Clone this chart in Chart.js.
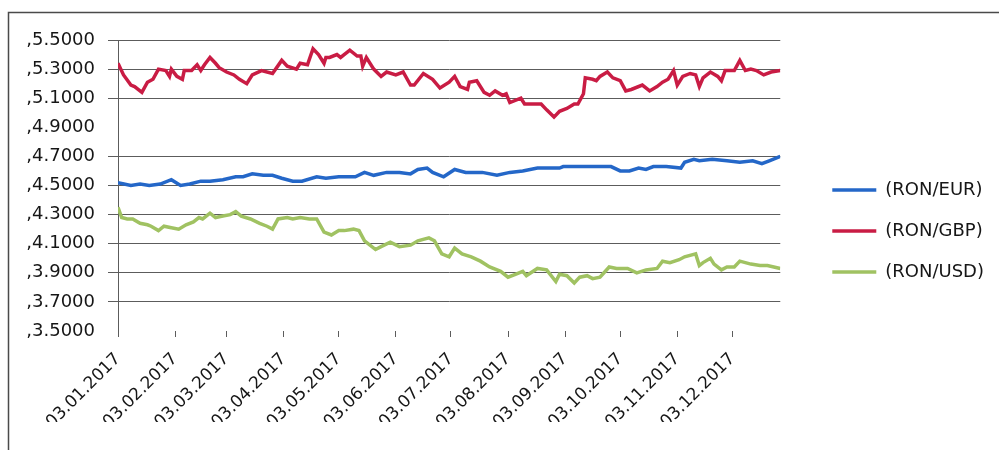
<!DOCTYPE html>
<html>
<head>
<meta charset="utf-8">
<script src="https://cdn.jsdelivr.net/npm/chart.js@4/dist/chart.umd.min.js"></script>
<style>
  body { margin: 0; background: #fff; }
  #wrap { width: 999px; height: 450px; }
</style>
</head>
<body>
<div id="wrap"><canvas id="fxChart" width="999" height="450"></canvas></div>
<script>
// ── DATA (days counted from 03.01.2017) ─────────────────────

const tickDays   = [0, 31, 59, 90, 120, 151, 181, 212, 243, 273, 304, 334];
const tickLabels = ['03.01.2017', '03.02.2017', '03.03.2017', '03.04.2017', '03.05.2017', '03.06.2017',
                    '03.07.2017', '03.08.2017', '03.09.2017', '03.10.2017', '03.11.2017', '03.12.2017'];

const eurDays  = [0, 7, 12, 17, 23, 29, 34, 39, 45, 50, 57, 64, 68, 73, 79, 84, 89, 95, 100, 108, 113, 120,
                  129, 134, 139, 146, 153, 159, 163, 168, 171, 177, 183, 189, 198, 206, 213, 220, 228, 233,
                  240, 242, 253, 268, 273, 278, 283, 287, 291, 298, 306, 308, 313, 316, 323, 331, 338, 345,
                  350, 354, 360];
const eurRates = [4.52, 4.50, 4.51, 4.50, 4.51, 4.54, 4.50, 4.51, 4.53, 4.53, 4.54, 4.56, 4.56, 4.58, 4.57,
                  4.57, 4.55, 4.53, 4.53, 4.56, 4.55, 4.56, 4.56, 4.59, 4.57, 4.59, 4.59, 4.58, 4.61, 4.62,
                  4.59, 4.56, 4.61, 4.59, 4.59, 4.57, 4.59, 4.60, 4.62, 4.62, 4.62, 4.63, 4.63, 4.63, 4.60,
                  4.60, 4.62, 4.61, 4.63, 4.63, 4.62, 4.66, 4.68, 4.67, 4.68, 4.67, 4.66, 4.67, 4.65, 4.67,
                  4.70];

const gbpDays  = [0, 3, 7, 9, 13, 16, 19, 22, 26, 28, 29, 32, 35, 36, 40, 43, 45, 47, 50, 53, 55, 59, 63, 66,
                  70, 73, 78, 84, 89, 92, 97, 99, 103, 106, 109, 112, 113, 115, 119, 121, 126, 130, 132, 133,
                  135, 139, 143, 146, 151, 155, 159, 161, 166, 171, 175, 180, 183, 186, 190, 191, 195, 199,
                  202, 205, 209, 211, 213, 219, 221, 226, 230, 233, 237, 240, 244, 248, 250, 253, 254, 258,
                  260, 262, 266, 269, 273, 276, 279, 285, 289, 293, 296, 299, 302, 304, 307, 311, 314, 316,
                  318, 322, 326, 328, 330, 335, 338, 341, 344, 347, 351, 355, 360];
const gbpRates = [5.34, 5.26, 5.19, 5.18, 5.14, 5.21, 5.23, 5.30, 5.29, 5.25, 5.30, 5.25, 5.23, 5.29, 5.29,
                  5.33, 5.29, 5.33, 5.38, 5.34, 5.31, 5.28, 5.26, 5.23, 5.20, 5.26, 5.29, 5.27, 5.36, 5.32,
                  5.30, 5.34, 5.33, 5.44, 5.40, 5.34, 5.38, 5.38, 5.40, 5.38, 5.43, 5.39, 5.39, 5.32, 5.38,
                  5.30, 5.25, 5.28, 5.26, 5.28, 5.19, 5.19, 5.27, 5.23, 5.17, 5.21, 5.25, 5.18, 5.16, 5.21,
                  5.22, 5.14, 5.12, 5.15, 5.12, 5.13, 5.07, 5.10, 5.06, 5.06, 5.06, 5.02, 4.97, 5.01, 5.03,
                  5.06, 5.06, 5.13, 5.24, 5.23, 5.22, 5.25, 5.28, 5.24, 5.22, 5.15, 5.16, 5.19, 5.15, 5.18,
                  5.21, 5.23, 5.29, 5.19, 5.25, 5.27, 5.26, 5.18, 5.24, 5.28, 5.25, 5.22, 5.29, 5.29, 5.36,
                  5.29, 5.30, 5.29, 5.26, 5.28, 5.29];

const usdDays  = [0, 2, 5, 8, 12, 16, 18, 22, 25, 29, 33, 37, 41, 44, 46, 50, 53, 57, 61, 64, 67, 72, 77, 81,
                  84, 87, 92, 95, 99, 104, 108, 112, 116, 120, 123, 128, 131, 134, 140, 143, 148, 153, 159,
                  163, 169, 172, 176, 180, 183, 187, 192, 197, 202, 208, 212, 216, 220, 222, 228, 233, 238,
                  240, 244, 248, 251, 255, 258, 262, 267, 271, 277, 282, 287, 293, 296, 300, 305, 308, 314,
                  316, 318, 322, 324, 328, 331, 335, 338, 344, 349, 353, 360];
const usdRates = [4.35, 4.28, 4.27, 4.27, 4.24, 4.23, 4.22, 4.19, 4.22, 4.21, 4.20, 4.23, 4.25, 4.28, 4.27,
                  4.31, 4.28, 4.29, 4.30, 4.32, 4.29, 4.27, 4.24, 4.22, 4.20, 4.27, 4.28, 4.27, 4.28, 4.27,
                  4.27, 4.18, 4.16, 4.19, 4.19, 4.20, 4.19, 4.12, 4.06, 4.08, 4.11, 4.08, 4.09, 4.12, 4.14,
                  4.12, 4.03, 4.01, 4.07, 4.03, 4.01, 3.98, 3.94, 3.91, 3.87, 3.89, 3.91, 3.88, 3.93, 3.92,
                  3.84, 3.89, 3.88, 3.83, 3.87, 3.88, 3.86, 3.87, 3.94, 3.93, 3.93, 3.90, 3.92, 3.93, 3.98,
                  3.97, 3.99, 4.01, 4.03, 3.95, 3.97, 4.00, 3.96, 3.92, 3.94, 3.94, 3.98, 3.96, 3.95, 3.95,
                  3.93];

const seriesNames  = ['(RON/EUR)', '(RON/GBP)', '(RON/USD)'];
const seriesColors = ['#2467c8', '#c91c44', '#a0c262'];


// ── HELPERS ────────────────────────────────────────────────

const toPoints = (days, rates) => days.map((d, i) => ({ x: d, y: rates[i] }));

const gridColor = '#5c5c5c';
const textColor = '#161616';
const fontFamily = '"DejaVu Sans", sans-serif';

// scanned page frame round the chart, and a gap between plot and legend
const framePlugin = {
  id: 'frame',
  afterLayout(chart) {
    chart.legend.left += 29;
    chart.legend.right += 29;
  },
  beforeDraw(chart) {
    const c = chart.ctx;
    c.save();
    c.strokeStyle = '#4a4a4a';
    c.lineWidth = 1.5;
    c.beginPath();
    c.moveTo(8.5, 450);
    c.lineTo(8.5, 12.5);
    c.lineTo(999, 12.5);
    c.stroke();
    c.restore();
  }
};


// ── CHART ──────────────────────────────────────────────────

const datasets = [
  toPoints(eurDays, eurRates),
  toPoints(gbpDays, gbpRates),
  toPoints(usdDays, usdRates)
].map((pts, i) => ({
  label: seriesNames[i],
  data: pts,
  borderColor: seriesColors[i],
  backgroundColor: seriesColors[i],
  borderWidth: 3.5,
  pointRadius: 0,
  tension: 0
}));

new Chart(document.getElementById('fxChart'), {
  type: 'line',
  data: { datasets },
  plugins: [framePlugin],
  options: {
    responsive: false,
    animation: false,
    layout: { padding: { top: 40, bottom: 28, left: 0, right: 34 } },
    plugins: {
      tooltip: { enabled: false },
      legend: {
        position: 'right',
        labels: {
          usePointStyle: true,
          pointStyle: 'line',
          pointStyleWidth: 44,
          padding: 23,
          color: textColor,
          font: { family: fontFamily, size: 18 }
        }
      }
    },
    scales: {
      x: {
        type: 'linear',
        min: 0,
        max: 360,
        afterBuildTicks: scale => { scale.ticks = tickDays.map(v => ({ value: v })); },
        afterFit: scale => { scale.height = 91; },
        border: { display: false },
        grid: { drawOnChartArea: false, color: gridColor, tickLength: 6 },
        ticks: {
          autoSkip: false,
          minRotation: 45,
          maxRotation: 45,
          padding: 12,
          color: textColor,
          font: { family: fontFamily, size: 17 },
          callback: (v, i) => tickLabels[i]
        }
      },
      y: {
        min: 3.5,
        max: 5.5,
        afterFit: scale => { scale.width = 118; },
        border: { display: true, color: gridColor, width: 1 },
        grid: {
          tickLength: 10,
          color: c => {
            const v = c.tick ? c.tick.value : 0;
            return (Math.abs(v - 4.9) < 1e-6 || Math.abs(v - 3.5) < 1e-6) ? 'rgba(0,0,0,0)' : gridColor;
          }
        },
        ticks: {
          stepSize: 0.2,
          padding: 13,
          color: textColor,
          font: { family: fontFamily, size: 18 },
          callback: v => ',' + Number(v).toFixed(4)
        }
      }
    }
  }
});
</script>
</body>
</html>
